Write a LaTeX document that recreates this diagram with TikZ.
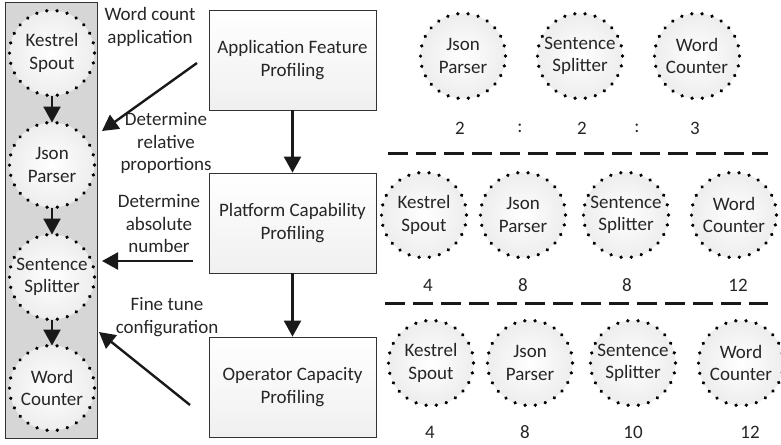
\documentclass[tikz,border=0pt]{standalone}
\usepackage{fontspec}
\setmainfont{Carlito}
\usetikzlibrary{arrows.meta,decorations.markings}
\begin{document}
\begin{tikzpicture}[x=1pt,y=-1pt,
  every node/.style={font=\fontsize{19}{22.5}\selectfont, text=black!85},
  op/.style={circle, minimum size=85pt, inner sep=0pt, outer sep=0pt, align=center,
    shading=radial, inner color=white, outer color=black!7,
    postaction={decorate, decoration={markings,
      mark=between positions 0 and 0.99 step 0.0385 with {\fill[black] (0,0) circle (1.85pt);}}}},
  stagebox/.style={rectangle, draw=black!80, line width=0.8pt,
    top color=white, bottom color=black!6,
    minimum width=167pt, minimum height=100pt, align=center, inner sep=0pt},
  panelbox/.style={rectangle, draw=black!80, line width=0.8pt, fill=black!16,
    minimum width=92pt, minimum height=436pt, inner sep=0pt},
  flow/.style={-{Triangle[width=17pt,length=16pt]}, line width=2.4pt, draw=black!90},
  note/.style={align=center, inner sep=0pt},
  sep/.style={line width=3pt, draw=black!90, dash pattern=on 20pt off 8pt},
  num/.style={inner sep=0pt}]
\useasboundingbox (0,0) rectangle (781,444);

% word count topology
\node[panelbox] (panel) at (51,220) {};
\node[op] (ks) at (52,53)  {Kestrel\\Spout};
\node[op] (jp) at (52,165) {Json\\Parser};
\node[op] (ss) at (52,277) {Sentence\\Splitter};
\node[op] (wc) at (52,388) {Word\\Counter};
\draw[flow] (ks) -- (jp);
\draw[flow] (jp) -- (ss);
\draw[flow] (ss) -- (wc);

% profiling stages
\node[stagebox] (app)  at (292.5,60)  {Application Feature\\Profiling};
\node[stagebox] (plat) at (292.5,223) {Platform Capability\\Profiling};
\node[stagebox] (oper) at (292.5,387) {Operator Capacity\\Profiling};
\draw[flow] (app) -- (plat);
\draw[flow] (plat) -- (oper);

% annotations
\node[note] (lwc) at (150,27)  {Word count\\application};
\node[note] (lrel) at (166,143) {Determine\\relative\\proportions};
\node[note] (labs) at (159,224) {Determine\\absolute\\number};
\node[note] (lfin) at (167,317) {Fine tune\\configuration};

\coordinate (s1) at (197,63);  \coordinate (t1) at (102,131);
\coordinate (s2) at (193,261); \coordinate (t2) at (102,261);
\coordinate (s3) at (190,405); \coordinate (t3) at (99,332);
\draw[flow] (s1) -- (t1);
\draw[flow] (s2) -- (t2);
\draw[flow] (s3) -- (t3);

% relative proportions
\node[op] (r1a) at (463,56) {Json\\Parser};
\node[op] (r1b) at (580,56) {Sentence\\Splitter};
\node[op] (r1c) at (697,56) {Word\\Counter};
\node[num] (n1a) at (460,128) {2};
\node[num] (n1s) at (520,128) {:};
\node[num] (n1b) at (582,128) {2};
\node[num] (n1t) at (637,128) {:};
\node[num] (n1c) at (695,128) {3};

\draw[sep] (388,153) -- (768,153);

% absolute numbers
\node[op] (r2a) at (424,215) {Kestrel\\Spout};
\node[op] (r2b) at (523,215) {Json\\Parser};
\node[op] (r2c) at (626,215) {Sentence\\Splitter};
\node[op] (r2d) at (734,215) {Word\\Counter};
\node[num] (n2a) at (428,285) {4};
\node[num] (n2b) at (523,285) {8};
\node[num] (n2c) at (627,285) {8};
\node[num] (n2d) at (738,285) {12};

\draw[sep] (385,303) -- (768,303);

% tuned configuration
\node[op] (r3a) at (431,363) {Kestrel\\Spout};
\node[op] (r3b) at (530,363) {Json\\Parser};
\node[op] (r3c) at (633,363) {Sentence\\Splitter};
\node[op] (r3d) at (741,363) {Word\\Counter};
\node[num] (n3a) at (430,432) {4};
\node[num] (n3b) at (525,432) {8};
\node[num] (n3c) at (633,432) {10};
\node[num] (n3d) at (750,432) {12};
\end{tikzpicture}
\end{document}
